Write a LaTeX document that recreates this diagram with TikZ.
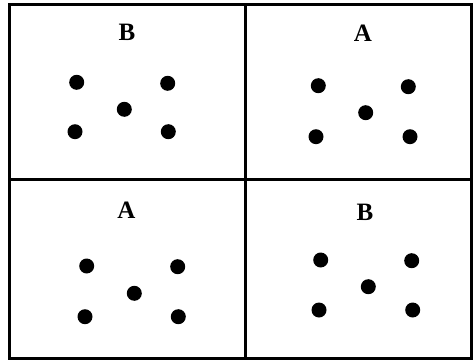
\documentclass[tikz,border=0pt]{standalone}
\usepackage{fontspec}
\setmainfont{Liberation Serif}
\begin{document}
\begin{tikzpicture}[x=1pt,y=-1pt,
  dot/.style={circle,fill=black,inner sep=0pt,minimum size=15pt},
  lbl/.style={font=\fontsize{25}{27}\selectfont\bfseries,inner sep=0pt},
  grid/.style={line width=3pt}]
\useasboundingbox (0,0) rectangle (473,361);
\draw[grid] (9.5,4.5) rectangle (471.5,358.5);
\coordinate (vt) at (245,4.5);
\coordinate (vb) at (245,358.5);
\coordinate (hl) at (9.5,179);
\coordinate (hr) at (471.5,179);
\draw[grid] (vt) -- (vb);
\draw[grid] (hl) -- (hr);
% labels
\node[lbl] (l1) at (127,32) {B};
\node[lbl] (l2) at (363,33) {A};
\node[lbl] (l3) at (126.5,210.5) {A};
\node[lbl] (l4) at (365,212) {B};
% top-left dots
\node[dot] (a1) at (76.7,82.3) {};
\node[dot] (a2) at (167.7,83.3) {};
\node[dot] (a3) at (124.3,109.3) {};
\node[dot] (a4) at (75,131.7) {};
\node[dot] (a5) at (168.3,131.7) {};
% top-right dots
\node[dot] (b1) at (318.3,85.7) {};
\node[dot] (b2) at (408.3,86.7) {};
\node[dot] (b3) at (365.7,112.7) {};
\node[dot] (b4) at (316,136.7) {};
\node[dot] (b5) at (410,136.7) {};
% bottom-left dots
\node[dot] (c1) at (86.7,266) {};
\node[dot] (c2) at (177.7,266.7) {};
\node[dot] (c3) at (134.3,293.3) {};
\node[dot] (c4) at (85,316.7) {};
\node[dot] (c5) at (178.3,316.7) {};
% bottom-right dots
\node[dot] (d1) at (320.7,260) {};
\node[dot] (d2) at (411.7,260.7) {};
\node[dot] (d3) at (368.3,286.7) {};
\node[dot] (d4) at (319,310) {};
\node[dot] (d5) at (412.7,310) {};
\end{tikzpicture}
\end{document}
